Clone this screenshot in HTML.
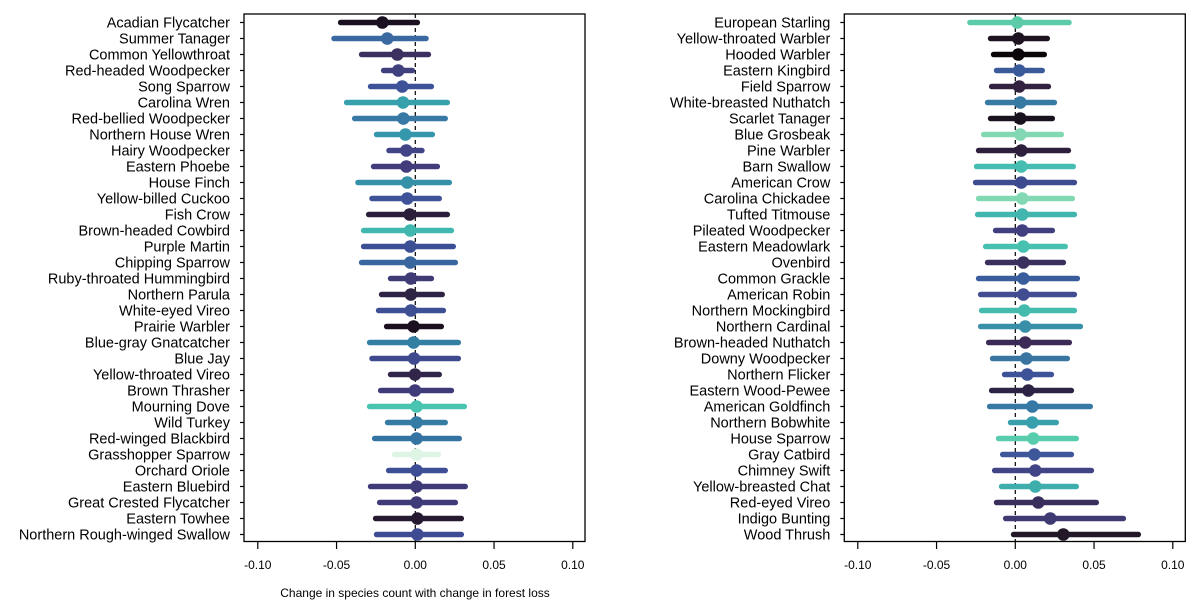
<!DOCTYPE html>
<html><head><meta charset="utf-8"><style>
html,body{margin:0;padding:0;background:#fff;}
svg{display:block;font-family:"Liberation Sans",Arial,sans-serif;}
</style></head><body>
<svg id="chart" width="1200" height="600" viewBox="0 0 1200 600" xmlns="http://www.w3.org/2000/svg"></svg>
<script>
const leftSpecies=["Acadian Flycatcher","Summer Tanager","Common Yellowthroat","Red-headed Woodpecker","Song Sparrow","Carolina Wren","Red-bellied Woodpecker","Northern House Wren","Hairy Woodpecker","Eastern Phoebe","House Finch","Yellow-billed Cuckoo","Fish Crow","Brown-headed Cowbird","Purple Martin","Chipping Sparrow","Ruby-throated Hummingbird","Northern Parula","White-eyed Vireo","Prairie Warbler","Blue-gray Gnatcatcher","Blue Jay","Yellow-throated Vireo","Brown Thrasher","Mourning Dove","Wild Turkey","Red-winged Blackbird","Grasshopper Sparrow","Orchard Oriole","Eastern Bluebird","Great Crested Flycatcher","Eastern Towhee","Northern Rough-winged Swallow"];
const leftEst=[-0.0209,-0.0178,-0.0114,-0.0108,-0.0083,-0.0078,-0.0076,-0.0063,-0.0057,-0.0057,-0.0051,-0.0051,-0.0036,-0.0032,-0.0032,-0.0032,-0.0028,-0.0028,-0.0028,-0.0011,-0.0011,-0.0008,-0.0002,-0.0002,0.0008,0.0008,0.0008,0.0008,0.0008,0.0008,0.0008,0.0013,0.0013];
const leftLo=[-0.0474,-0.0516,-0.0341,-0.0201,-0.0284,-0.0436,-0.0385,-0.0246,-0.0167,-0.0265,-0.0364,-0.0275,-0.0296,-0.0328,-0.0328,-0.0341,-0.0157,-0.0214,-0.0233,-0.0182,-0.0290,-0.0275,-0.0157,-0.0220,-0.0290,-0.0176,-0.0258,-0.0131,-0.0169,-0.0284,-0.0226,-0.0252,-0.0246];
const leftHi=[0.0013,0.0068,0.0083,-0.0019,0.0102,0.0203,0.0190,0.0108,0.0042,0.0140,0.0216,0.0152,0.0203,0.0229,0.0241,0.0254,0.0102,0.0171,0.0178,0.0165,0.0273,0.0273,0.0152,0.0229,0.0311,0.0190,0.0279,0.0146,0.0190,0.0317,0.0254,0.0292,0.0292];
const leftColors=["#1a1020","#3a68a0","#3c3060","#41407f","#3d5298","#36a0ad","#3778a5","#3597ab","#414487","#423c7d","#3690a8","#3e5298","#2a1e3a","#40b8b0","#3c4f95","#3a66a0","#3f3b75","#2e2342","#3e4f94","#1a1020","#337fa3","#3f4a8e","#32254a","#3f3a78","#48c4b0","#347ca3","#3574a2","#def5e6","#3e4e95","#3f3a78","#3f3a78","#251a30","#3e4b92"];

const rightSpecies=["European Starling","Yellow-throated Warbler","Hooded Warbler","Eastern Kingbird","Field Sparrow","White-breasted Nuthatch","Scarlet Tanager","Blue Grosbeak","Pine Warbler","Barn Swallow","American Crow","Carolina Chickadee","Tufted Titmouse","Pileated Woodpecker","Eastern Meadowlark","Ovenbird","Common Grackle","American Robin","Northern Mockingbird","Northern Cardinal","Brown-headed Nuthatch","Downy Woodpecker","Northern Flicker","Eastern Wood-Pewee","American Goldfinch","Northern Bobwhite","House Sparrow","Gray Catbird","Chimney Swift","Yellow-breasted Chat","Red-eyed Vireo","Indigo Bunting","Wood Thrush"];
const rightEst=[0.0013,0.0019,0.0019,0.0025,0.0025,0.0032,0.0032,0.0032,0.0038,0.0038,0.0038,0.0044,0.0044,0.0044,0.0051,0.0051,0.0051,0.0051,0.0057,0.0063,0.0063,0.0070,0.0076,0.0083,0.0108,0.0108,0.0114,0.0121,0.0127,0.0127,0.0146,0.0222,0.0305];
const rightLo=[-0.0288,-0.0157,-0.0138,-0.0119,-0.0150,-0.0176,-0.0157,-0.0201,-0.0233,-0.0246,-0.0252,-0.0233,-0.0239,-0.0125,-0.0188,-0.0176,-0.0233,-0.0220,-0.0214,-0.0220,-0.0169,-0.0144,-0.0068,-0.0150,-0.0163,-0.0030,-0.0106,-0.0080,-0.0131,-0.0087,-0.0119,-0.0061,-0.0011];
const rightHi=[0.0341,0.0203,0.0184,0.0171,0.0210,0.0248,0.0235,0.0292,0.0337,0.0368,0.0375,0.0362,0.0375,0.0235,0.0317,0.0305,0.0394,0.0375,0.0375,0.0413,0.0343,0.0330,0.0229,0.0356,0.0476,0.0260,0.0387,0.0356,0.0483,0.0387,0.0514,0.0686,0.0781];
const rightColors=["#5ccbaa","#1e1320","#0a0508","#3b5a9a","#32223f","#3679a2","#1b1220","#82d8b2","#2e1f3c","#45bdb0","#3e4b8f","#82d8b2","#41b5ae","#423f80","#46c1b0","#3b2f5e","#3a5e9c","#414d90","#45bbae","#3890a8","#3b2a55","#3a74a0","#3e5298","#2e2245","#3778a4","#3a9fad","#58cdae","#3e5799","#424585","#3eaeac","#3a2e5c","#3f3a72","#231828"];

const tickValues=[-0.10,-0.05,0.00,0.05,0.10];
const tickLabels=["-0.10","-0.05","0.00","0.05","0.10"];

const NS="http://www.w3.org/2000/svg";
const svg=document.getElementById('chart');
function mk(tag,attrs,parent){const e=document.createElementNS(NS,tag);for(const k in attrs)e.setAttribute(k,attrs[k]);(parent||svg).appendChild(e);return e;}

function panel(cfg){
  const g=mk('g',{});
  
  
  const xScale=v=>cfg.zeroX+v*1575;
  const yScale=i=>22.5+i*16;
  const box=mk('rect',{x:cfg.left,y:14,width:cfg.right-cfg.left,height:527.5,fill:'none',stroke:'#000','stroke-width':1.3},g);
  
  
  const zl=mk('line',{x1:xScale(0),x2:xScale(0),y1:14,y2:541.5,stroke:'#000','stroke-width':1.2,'stroke-dasharray':'4,3'},g);
  
  
  tickValues.forEach((v,i)=>{
    const x=xScale(v);
    const t=mk('line',{x1:x,x2:x,y1:541.5,y2:549,stroke:'#000','stroke-width':1.2},g);
    
    
    const tl=mk('text',{x:x,y:569,'text-anchor':'middle','font-size':12,fill:'#000'},g);
    tl.textContent=tickLabels[i];
    
    
  });
  cfg.species.forEach((s,i)=>{
    const y=yScale(i);
    const t=mk('line',{x1:cfg.left-4,x2:cfg.left,y1:y,y2:y,stroke:'#000','stroke-width':1.2},g);
    
    
    const lb=mk('text',{x:cfg.left-14,y:y+5,'text-anchor':'end','font-size':14.5,fill:'#000'},g);
    lb.textContent=s;
    
    
    const ln=mk('line',{x1:xScale(cfg.lo[i]),x2:xScale(cfg.hi[i]),y1:y,y2:y,stroke:cfg.colors[i],'stroke-width':5.5,'stroke-linecap':'round'},g);
    
    
    const c=mk('circle',{cx:xScale(cfg.est[i]),cy:y,r:6.3,fill:cfg.colors[i]},g);
    
    
  });
}
panel({name:'left-panel',left:244,right:585,zeroX:415.3,species:leftSpecies,est:leftEst,lo:leftLo,hi:leftHi,colors:leftColors});
panel({name:'right-panel',left:844.3,right:1185.3,zeroX:1015.3,species:rightSpecies,est:rightEst,lo:rightLo,hi:rightHi,colors:rightColors});
const xt=mk('text',{x:415,y:597,'text-anchor':'middle','font-size':12,fill:'#000'});
xt.textContent='Change in species count with change in forest loss';


</script>
</body></html>
